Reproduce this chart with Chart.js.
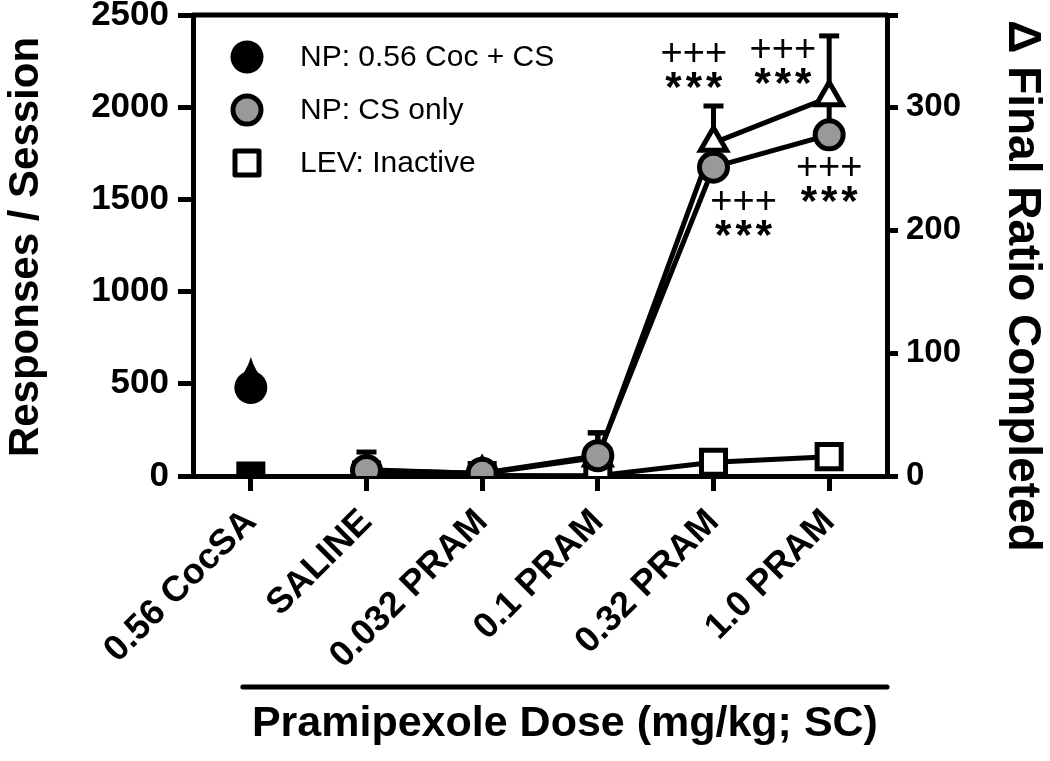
<!DOCTYPE html>
<html>
<head>
<meta charset="utf-8">
<script src="https://cdn.jsdelivr.net/npm/chart.js@4.4.0/dist/chart.umd.min.js"></script>
<style>
  html, body { margin: 0; padding: 0; background: #fff; }
  #wrap { width: 1050px; height: 761px; }
</style>
</head>
<body>
<div id="wrap"><canvas id="chart" width="1050" height="761"></canvas></div>
<script>
// --- values ---
const doses = ['0.56 CocSA', 'SALINE', '0.032 PRAM', '0.1 PRAM', '0.32 PRAM', '1.0 PRAM'];

// responses / session (left axis)
const npCocCS      = [480, null, null, null, null, null];
const npCocCSErr   = [165, null, null, null, null, null];
const npCSOnly     = [null, 30, 15, 110, 1675, 1850];
const npCSOnlyErr  = [null, 100, 25, 125, 60, 190];
const levInactive  = [null, 5, 3, 2, 75, 105];
const levCocSA     = [0, null, null, null, null, null];

// final ratio completed (right axis)
const finalRatio    = [null, 5, 2, 15, 271, 308];
const finalRatioErr = [null, 6, 3, 20, 30, 50];

const leftMax = 2500, leftStep = 500;
const rightMax = 375, rightStep = 100;

// significance marks: dose, height of the "+++" row (left-axis units), horizontal shift in category widths
const sigMarks = [
  { dose: '0.32 PRAM', value: 2283, shift: -0.17 },
  { dose: '0.32 PRAM', value: 1481, shift: 0.26 },
  { dose: '1.0 PRAM',  value: 2305, shift: -0.40 },
  { dose: '1.0 PRAM',  value: 1665, shift: 0.0 }
];

const legendItems = [
  { text: 'NP: 0.56 Coc + CS', style: 'circle', fill: '#000' },
  { text: 'NP: CS only',       style: 'circle', fill: '#999' },
  { text: 'LEV: Inactive',     style: 'rect',   fill: '#fff' }
];

const FONT = "'Liberation Sans', Arial, Helvetica, sans-serif";

// error bars (upper only), drawn under the markers
const errorBars = {
  id: 'errorBars',
  beforeDatasetsDraw(chart) {
    const ctx = chart.ctx;
    const x = chart.scales.x;
    ctx.save();
    ctx.strokeStyle = '#000';
    ctx.lineWidth = 5;
    ctx.lineCap = 'butt';
    chart.data.datasets.forEach(ds => {
      if (!ds.errors) return;
      const y = chart.scales[ds.yAxisID];
      ds.data.forEach((v, i) => {
        const e = ds.errors[i];
        if (v == null || !e) return;
        const px = x.getPixelForValue(i);
        const y0 = y.getPixelForValue(v);
        const y1 = y.getPixelForValue(v + e);
        if (ds.taper) {
          // cocaine point: the bar merges with the marker into a drop
          ctx.fillStyle = '#000';
          ctx.beginPath();
          ctx.moveTo(px, y1);
          ctx.quadraticCurveTo(px - 4, y1 + 14, px - 14, y0 - 6);
          ctx.lineTo(px + 14, y0 - 6);
          ctx.quadraticCurveTo(px + 4, y1 + 14, px, y1);
          ctx.closePath();
          ctx.fill();
          return;
        }
        ctx.beginPath();
        ctx.moveTo(px, y0);
        ctx.lineTo(px, y1);
        ctx.stroke();
        const cw = ds.capWidth;
        if (cw) {
          ctx.beginPath();
          ctx.moveTo(px - cw / 2, y1);
          ctx.lineTo(px + cw / 2, y1);
          ctx.stroke();
        }
      });
    });
    ctx.restore();
  }
};

const decorations = {
  id: 'decorations',
  afterDraw(chart) {
    const ctx = chart.ctx;
    const a = chart.chartArea;
    const x = chart.scales.x;
    const yl = chart.scales.y;
    ctx.save();
    ctx.fillStyle = '#000';
    ctx.strokeStyle = '#000';

    // top frame
    ctx.lineWidth = 5;
    ctx.lineCap = 'round';
    ctx.beginPath();
    ctx.moveTo(a.left, a.top);
    ctx.lineTo(a.right, a.top);
    ctx.stroke();

    // legend
    legendItems.forEach((it, k) => {
      const cy = a.top + 42 + k * 53;
      const cx = a.left + 54;
      ctx.lineWidth = 5;
      ctx.fillStyle = it.fill;
      ctx.beginPath();
      if (it.style === 'circle') {
        if (it.fill === '#000') {
          ctx.arc(cx, cy, 16.5, 0, Math.PI * 2);
          ctx.fill();
        } else {
          ctx.arc(cx, cy, 14, 0, Math.PI * 2);
          ctx.fill();
          ctx.stroke();
        }
      } else {
        ctx.lineJoin = 'round';
        ctx.rect(cx - 12, cy - 12, 24, 24);
        ctx.fill();
        ctx.stroke();
      }
      ctx.fillStyle = '#000';
      ctx.font = '30px ' + FONT;
      ctx.textAlign = 'left';
      ctx.textBaseline = 'middle';
      ctx.fillText(it.text, a.left + 107, cy + 1);
    });

    // significance marks
    const catW = x.getPixelForValue(1) - x.getPixelForValue(0);
    sigMarks.forEach(m => {
      const px = x.getPixelForValue(doses.indexOf(m.dose)) + m.shift * catW;
      const py = yl.getPixelForValue(m.value);
      ctx.textAlign = 'center';
      ctx.textBaseline = 'middle';
      ctx.font = '38px ' + FONT;
      ctx.fillText('+++', px, py);
      ctx.font = 'bold 42px ' + FONT;
      ctx.textBaseline = 'alphabetic';
      ctx.letterSpacing = '4px';
      ctx.fillText('***', px + 2, py + 46);
      ctx.letterSpacing = '0px';
    });

    // axis titles
    ctx.textAlign = 'center';
    ctx.textBaseline = 'middle';
    ctx.font = 'bold 42px ' + FONT;
    ctx.save();
    ctx.translate(26, 247);
    ctx.rotate(-Math.PI / 2);
    ctx.fillText('Responses / Session', 0, 0);
    ctx.restore();

    ctx.font = 'bold 46px ' + FONT;
    ctx.save();
    ctx.translate(1022, 286);
    ctx.rotate(Math.PI / 2);
    ctx.fillText('\u0394 Final Ratio Completed', 0, 0);
    ctx.restore();

    // bracket line + x title
    const lx0 = x.getPixelForValue(0) - 8;
    ctx.lineWidth = 5;
    ctx.lineCap = 'round';
    ctx.beginPath();
    ctx.moveTo(lx0, 687);
    ctx.lineTo(a.right, 687);
    ctx.stroke();
    ctx.font = 'bold 43px ' + FONT;
    ctx.fillText('Pramipexole Dose (mg/kg; SC)', (lx0 + a.right) / 2, 724);

    ctx.restore();
  }
};

const axisFont = { family: FONT, size: 35, weight: 'bold' };

new Chart(document.getElementById('chart'), {
  type: 'line',
  data: {
    labels: doses,
    datasets: [
      {
        label: 'NP: 0.56 Coc + CS',
        data: npCocCS, errors: npCocCSErr, taper: true,
        yAxisID: 'y', order: 0,
        borderColor: '#000', borderWidth: 5,
        pointStyle: 'circle', pointRadius: 16.5, pointBorderWidth: 0,
        pointBackgroundColor: '#000', pointBorderColor: '#000'
      },
      {
        label: 'NP: CS only',
        data: npCSOnly, errors: npCSOnlyErr, capWidth: 20,
        yAxisID: 'y', order: 1,
        borderColor: '#000', borderWidth: 5,
        pointStyle: 'circle', pointRadius: 14, pointBorderWidth: 5,
        pointBackgroundColor: '#999', pointBorderColor: '#000'
      },
      {
        label: 'LEV: Inactive (CocSA)',
        data: levCocSA,
        yAxisID: 'y', order: 2,
        borderColor: '#000', borderWidth: 5,
        pointStyle: 'rect', pointRadius: 17, pointBorderWidth: 5,
        pointBackgroundColor: '#000', pointBorderColor: '#000'
      },
      {
        label: 'LEV: Inactive',
        data: levInactive,
        yAxisID: 'y', order: 3,
        borderColor: '#000', borderWidth: 5,
        pointStyle: 'rect', pointRadius: 17, pointBorderWidth: 5,
        pointBackgroundColor: '#fff', pointBorderColor: '#000'
      },
      {
        label: 'Final Ratio Completed',
        data: finalRatio, errors: finalRatioErr, capWidth: 20,
        yAxisID: 'y2', order: 4,
        borderColor: '#000', borderWidth: 5,
        pointStyle: 'triangle', pointRadius: 15, pointBorderWidth: 5,
        pointBackgroundColor: '#fff', pointBorderColor: '#000'
      }
    ]
  },
  options: {
    responsive: false,
    animation: false,
    spanGaps: false,
    layout: { autoPadding: false, padding: { top: 15, left: 0, right: 0, bottom: 0 } },
    plugins: {
      legend: { display: false },
      tooltip: { enabled: false }
    },
    scales: {
      x: {
        offset: true,
        grid: { drawOnChartArea: false, drawTicks: true, tickLength: 15, lineWidth: 5, color: '#000' },
        border: { width: 5, color: '#000' },
        ticks: { color: '#000', font: { family: FONT, size: 36, weight: 'bold' }, minRotation: 45, maxRotation: 45, padding: 10, autoSkip: false },
        afterFit: s => { s.height = 285; s.paddingLeft = 0; s.paddingRight = 0; }
      },
      y: {
        position: 'left',
        min: 0, max: leftMax,
        grid: { drawOnChartArea: false, drawTicks: true, tickLength: 15, lineWidth: 5, color: '#000' },
        border: { width: 5, color: '#000' },
        ticks: { stepSize: leftStep, color: '#000', font: axisFont, padding: 9, callback: v => String(v) },
        afterFit: s => { s.width = 193; s.paddingTop = 0; s.paddingBottom = 0; }
      },
      y2: {
        position: 'right',
        min: 0, max: rightMax,
        grid: { drawOnChartArea: false, drawTicks: true, tickLength: 11, lineWidth: 5, color: '#000' },
        border: { width: 5, color: '#000' },
        ticks: {
          stepSize: rightStep, color: '#000', font: { family: FONT, size: 33, weight: 'bold' }, padding: 8,
          callback: v => (v % rightStep === 0 ? String(v) : '')
        },
        afterFit: s => { s.width = 163; s.paddingTop = 0; s.paddingBottom = 0; }
      }
    }
  },
  plugins: [errorBars, decorations]
});
</script>
</body>
</html>
